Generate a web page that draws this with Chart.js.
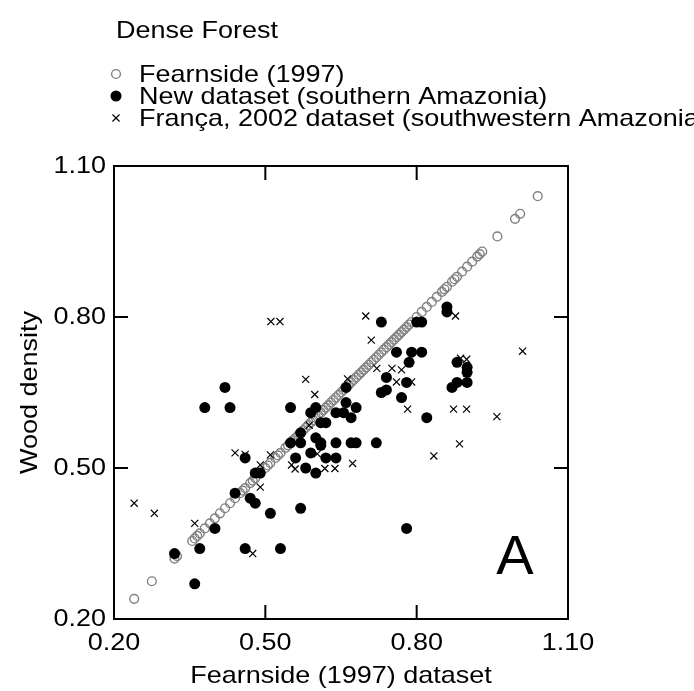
<!DOCTYPE html>
<html>
<head>
<meta charset="utf-8">
<script src="https://cdn.jsdelivr.net/npm/chart.js@4.4.1/dist/chart.umd.min.js"></script>
<style>
  html, body { margin: 0; padding: 0; background: #fff; }
  #wrap { width: 694px; height: 691px; }
</style>
</head>
<body>
<div id="wrap"><canvas id="chart" width="694" height="691"></canvas></div>
<script>
// Tick values shared by both axes
const xTicks = [0.20, 0.50, 0.80, 1.10];
const yTicks = [0.20, 0.50, 0.80, 1.10];

// Fearnside (1997) plotted against itself -> sits on the 1:1 line
const fearnside = [
  0.24, 0.275, 0.32, 0.325, 0.355, 0.36, 0.365, 0.37, 0.38, 0.39, 0.40, 0.41,
  0.42, 0.43, 0.44, 0.45, 0.455, 0.46, 0.47, 0.475, 0.48, 0.49, 0.50, 0.505,
  0.51, 0.52, 0.525, 0.53, 0.54, 0.545, 0.55, 0.555, 0.56, 0.565, 0.57, 0.575,
  0.58, 0.585, 0.59, 0.595, 0.60, 0.605, 0.61, 0.615, 0.62, 0.625, 0.63, 0.635,
  0.64, 0.645, 0.65, 0.655, 0.66, 0.665, 0.67, 0.675, 0.68, 0.685, 0.69, 0.695,
  0.70, 0.705, 0.71, 0.715, 0.72, 0.725, 0.73, 0.735, 0.74, 0.745, 0.75, 0.755,
  0.76, 0.765, 0.77, 0.775, 0.78, 0.785, 0.79, 0.80, 0.81, 0.82, 0.83, 0.84,
  0.85, 0.855, 0.86, 0.87, 0.875, 0.88, 0.89, 0.90, 0.91, 0.92, 0.925, 0.93,
  0.96, 0.995, 1.005, 1.04
];

// New dataset (southern Amazonia): Fearnside value vs measured density
const newX = [
  0.36, 0.32, 0.37, 0.46, 0.53, 0.40, 0.48, 0.47, 0.51, 0.57, 0.44, 0.48,
  0.49, 0.46, 0.38, 0.43, 0.42, 0.55, 0.59, 0.60, 0.64, 0.655, 0.68, 0.61,
  0.62, 0.67, 0.57, 0.60, 0.61, 0.61, 0.55, 0.57, 0.64, 0.67, 0.59, 0.56,
  0.62, 0.64, 0.58, 0.60, 0.66, 0.66, 0.72, 0.68, 0.82, 0.78, 0.73, 0.80,
  0.81, 0.86, 0.86, 0.76, 0.79, 0.81, 0.785, 0.88, 0.90, 0.90, 0.74, 0.78,
  0.87, 0.88, 0.90, 0.73, 0.74, 0.77
];
const newY = [
  0.27, 0.33, 0.34, 0.34, 0.34, 0.38, 0.43, 0.44, 0.41, 0.42, 0.45, 0.49,
  0.49, 0.52, 0.62, 0.62, 0.66, 0.62, 0.61, 0.62, 0.61, 0.61, 0.62, 0.59,
  0.59, 0.60, 0.57, 0.56, 0.55, 0.545, 0.55, 0.55, 0.55, 0.55, 0.53, 0.52,
  0.52, 0.52, 0.50, 0.49, 0.66, 0.63, 0.55, 0.55, 0.60, 0.38, 0.79, 0.79,
  0.79, 0.82, 0.81, 0.73, 0.73, 0.73, 0.71, 0.71, 0.70, 0.69, 0.68, 0.67,
  0.66, 0.67, 0.67, 0.65, 0.655, 0.64
];

// França, 2002 dataset (southwestern Amazonia)
const francaX = [
  0.24, 0.28, 0.36, 0.475, 0.44, 0.46, 0.49, 0.49, 0.51, 0.552, 0.559, 0.603,
  0.618, 0.638, 0.673, 0.587, 0.58, 0.598, 0.663, 0.511, 0.529, 0.699, 0.71,
  0.721, 0.751, 0.77, 0.76, 0.79, 0.877, 0.887, 0.899, 0.899, 0.782, 0.873,
  0.899, 0.959, 0.885, 0.834, 1.01
];
const francaY = [
  0.43, 0.41, 0.39, 0.33, 0.53, 0.527, 0.506, 0.462, 0.526, 0.506, 0.498, 0.528,
  0.499, 0.499, 0.509, 0.585, 0.676, 0.646, 0.677, 0.791, 0.791, 0.802, 0.754,
  0.698, 0.698, 0.695, 0.671, 0.671, 0.802, 0.718, 0.716, 0.689, 0.617, 0.617,
  0.617, 0.602, 0.548, 0.524, 0.732
];

const panelLabel = { text: 'A', x: 0.995, y: 0.289 };

const FONT = "'Liberation Sans', Arial, sans-serif";
const FONT_SIZE = 24;
const STRETCH = 1.125;   // glyphs are a little wider than plain Arial
const GREY = '#808080';

const styleFearnside = { pointStyle: 'circle', radius: 4.4, borderWidth: 1.4, borderColor: GREY, backgroundColor: 'rgba(0,0,0,0)' };
const styleNew = { pointStyle: 'circle', radius: 5.5, borderWidth: 0, borderColor: '#000', backgroundColor: '#000' };
const styleFranca = { pointStyle: 'crossRot', radius: 5, borderWidth: 1.2, borderColor: '#000', backgroundColor: '#000' };

// text widened along its own direction
function wideText(ctx, text, x, y, align, rotate) {
  ctx.save();
  ctx.translate(x, y);
  if (rotate) ctx.rotate(-Math.PI / 2);
  ctx.scale(STRETCH, 1);
  ctx.font = FONT_SIZE + 'px ' + FONT;
  ctx.fillStyle = '#000';
  ctx.textAlign = align;
  ctx.textBaseline = 'middle';
  ctx.fillText(text, 0, 0);
  ctx.restore();
}

// title, legend, axis labels, frame with inward ticks, panel letter
const decorations = {
  id: 'decorations',
  afterDraw(chart) {
    const { ctx, chartArea: a, scales } = chart;
    ctx.save();

    // frame
    ctx.strokeStyle = '#000';
    ctx.lineWidth = 2;
    ctx.strokeRect(a.left, a.top, a.right - a.left, a.bottom - a.top);

    // inward ticks on all four sides
    const tickLen = 14;
    ctx.beginPath();
    xTicks.forEach(v => {
      const px = scales.x.getPixelForValue(v);
      ctx.moveTo(px, a.bottom); ctx.lineTo(px, a.bottom - tickLen);
      ctx.moveTo(px, a.top); ctx.lineTo(px, a.top + tickLen);
    });
    yTicks.forEach(v => {
      const py = scales.y.getPixelForValue(v);
      ctx.moveTo(a.left, py); ctx.lineTo(a.left + tickLen, py);
      ctx.moveTo(a.right, py); ctx.lineTo(a.right - tickLen, py);
    });
    ctx.stroke();

    // tick labels
    xTicks.forEach(v => wideText(ctx, v.toFixed(2), scales.x.getPixelForValue(v), a.bottom + 24, 'center'));
    yTicks.forEach(v => wideText(ctx, v.toFixed(2), a.left - 8, scales.y.getPixelForValue(v), 'right'));

    // axis titles
    wideText(ctx, 'Fearnside (1997) dataset', (a.left + a.right) / 2, a.bottom + 57, 'center');
    wideText(ctx, 'Wood density', 30, (a.top + a.bottom) / 2, 'center', true);

    // panel letter
    ctx.fillStyle = '#000';
    ctx.font = '56px ' + FONT;
    ctx.textAlign = 'center';
    ctx.textBaseline = 'alphabetic';
    ctx.fillText(panelLabel.text, scales.x.getPixelForValue(panelLabel.x), scales.y.getPixelForValue(panelLabel.y));

    // heading
    wideText(ctx, 'Dense Forest', 116, 31, 'left');

    // legend
    const items = [
      { label: 'Fearnside (1997)', style: styleFearnside, y: 74 },
      { label: 'New dataset (southern Amazonia)', style: styleNew, y: 96 },
      { label: 'França, 2002 dataset (southwestern Amazonia)', style: styleFranca, y: 118 }
    ];
    items.forEach(it => {
      ctx.strokeStyle = it.style.borderColor;
      ctx.fillStyle = it.style.backgroundColor;
      ctx.lineWidth = it.style.borderWidth;
      Chart.helpers.drawPoint(ctx, {
        pointStyle: it.style.pointStyle,
        radius: it.style.radius,
        borderWidth: it.style.borderWidth,
        rotation: 0
      }, 116, it.y);
      wideText(ctx, it.label, 139, it.y + 1, 'left');
    });

    ctx.restore();
  }
};

function points(xs, ys) {
  return xs.map((x, i) => ({ x: x, y: ys[i] }));
}

function datasetFrom(label, data, s, order) {
  return {
    label: label,
    data: data,
    order: order,
    pointStyle: s.pointStyle,
    pointRadius: s.radius,
    pointBorderWidth: s.borderWidth,
    pointBorderColor: s.borderColor,
    pointBackgroundColor: s.backgroundColor,
    showLine: false
  };
}

new Chart(document.getElementById('chart'), {
  type: 'scatter',
  data: {
    datasets: [
      datasetFrom('Fearnside (1997)', fearnside.map(v => ({ x: v, y: v })), styleFearnside, 3),
      datasetFrom('New dataset (southern Amazonia)', points(newX, newY), styleNew, 2),
      datasetFrom('França, 2002 dataset (southwestern Amazonia)', points(francaX, francaY), styleFranca, 1)
    ]
  },
  options: {
    responsive: false,
    animation: false,
    layout: { padding: { top: 166, right: 126, left: 0, bottom: 0 } },
    plugins: {
      legend: { display: false },
      tooltip: { enabled: false }
    },
    scales: {
      x: {
        type: 'linear',
        min: 0.2,
        max: 1.1,
        grid: { display: false, drawTicks: false },
        border: { display: false },
        ticks: { display: false },
        afterBuildTicks: s => { s.ticks = xTicks.map(v => ({ value: v })); },
        afterFit: s => { s.height = 72; }
      },
      y: {
        type: 'linear',
        min: 0.2,
        max: 1.1,
        grid: { display: false, drawTicks: false },
        border: { display: false },
        ticks: { display: false },
        afterBuildTicks: s => { s.ticks = yTicks.map(v => ({ value: v })); },
        afterFit: s => { s.width = 114; }
      }
    }
  },
  plugins: [decorations]
});
</script>
</body>
</html>
